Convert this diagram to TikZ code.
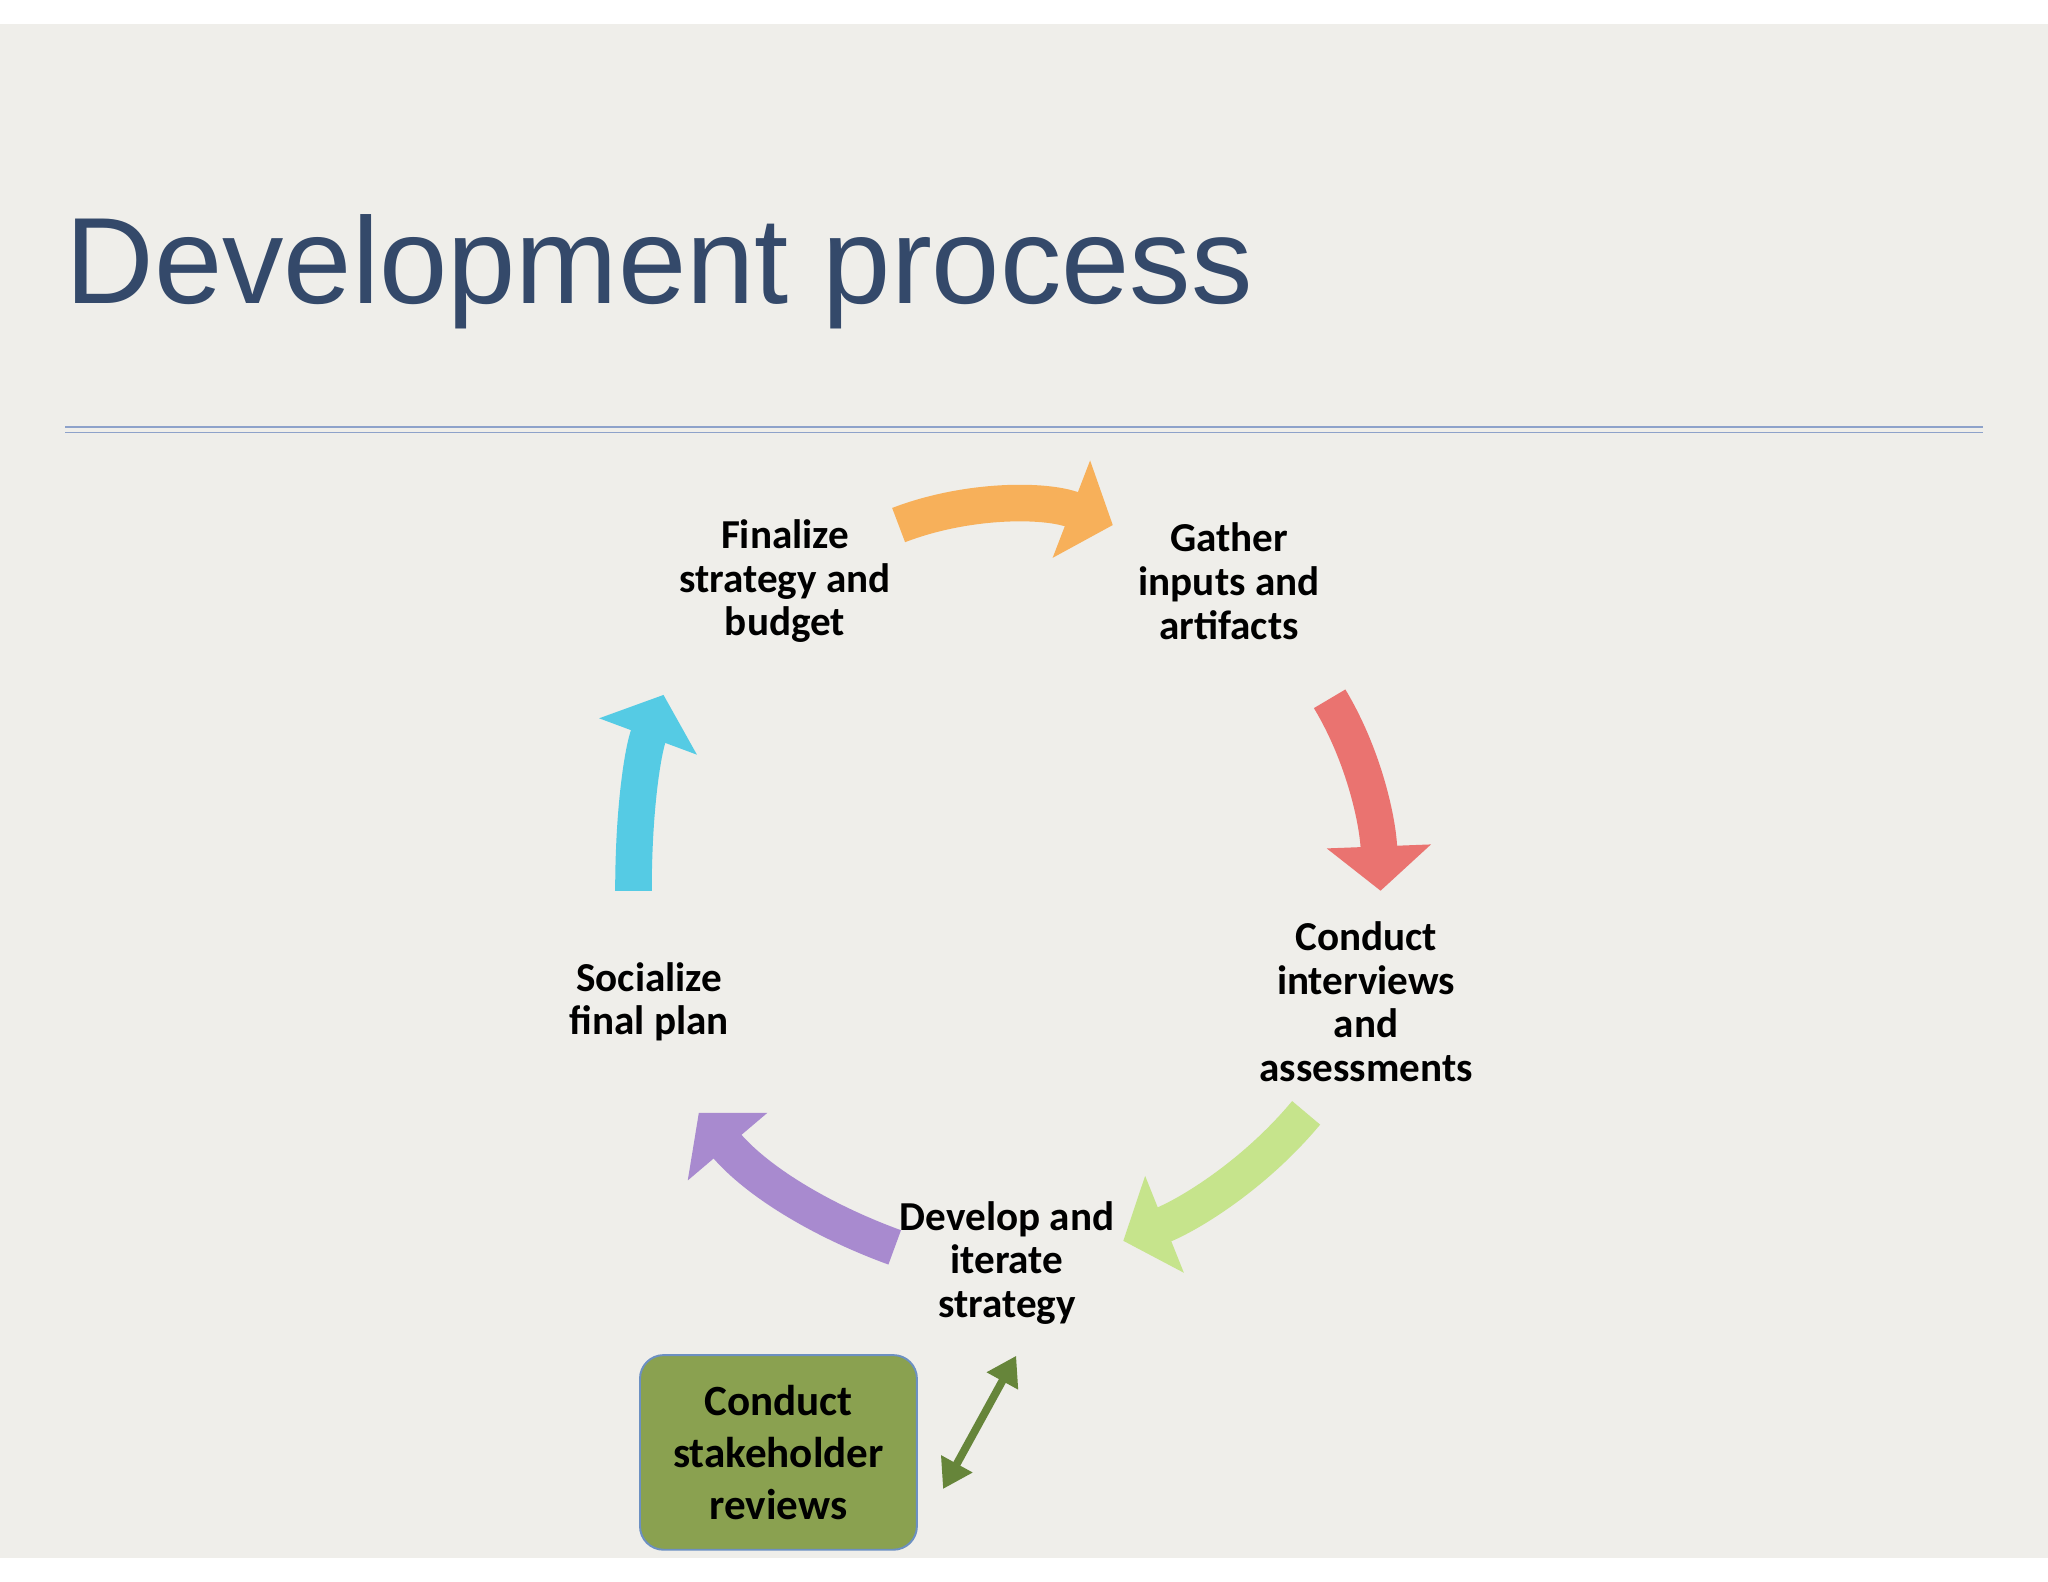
\documentclass[tikz,border=0pt]{standalone}
\usepackage{fontspec}
\setmainfont{Carlito}
\newfontfamily\titlefont{Liberation Sans}
\usetikzlibrary{arrows.meta}
\definecolor{paper}{HTML}{EFEEEA}
\definecolor{titleblue}{HTML}{34496A}
\definecolor{rule}{HTML}{8EA2CA}
\definecolor{corange}{HTML}{F7B05A}
\definecolor{cred}{HTML}{EA7370}
\definecolor{cgreen}{HTML}{C6E48C}
\definecolor{cpurple}{HTML}{A88ACF}
\definecolor{cblue}{HTML}{55CBE4}
\definecolor{olive}{HTML}{8AA150}
\definecolor{darkolive}{HTML}{66853A}
\definecolor{boxedge}{HTML}{6C90C2}
\begin{document}
\begin{tikzpicture}[x=1pt,y=-1pt,
  lab/.style={font=\bfseries\fontsize{31.5}{33.5}\selectfont,align=center,text=black},
  cyc/.style={line width=28pt,-{Triangle[width=78pt,length=34pt]}}]
\useasboundingbox (0,0) rectangle (1568,1211);
\fill[white] (0,0) rectangle (1568,1211);
\fill[paper] (0,18) rectangle (1568,1193);
\node[anchor=base west,inner sep=0,text=titleblue,font=\titlefont\fontsize{94}{100}\selectfont] (title) at (50,232) {Development process};
\draw[rule,line width=1.2pt] (50,327) -- (1518,327) (50,331) -- (1518,331);
\node[lab] (fin) at (601,445) {Finalize\\strategy and\\budget};
\node[lab] (gat) at (941,445) {Gather\\inputs and\\artifacts};
\node[lab] (con) at (1046,767) {Conduct\\interviews\\and\\assessments};
\node[lab] (dev) at (771,967) {Develop and\\iterate\\strategy};
\node[lab] (soc) at (497,767) {Socialize\\final plan};
\coordinate (o1) at (688,402); \coordinate (o2) at (852,402);
\coordinate (r1) at (1018,535); \coordinate (r2) at (1057,682);
\coordinate (g1) at (1000,852); \coordinate (g2) at (860,950);
\coordinate (p1) at (685,955); \coordinate (p2) at (535,852);
\coordinate (b1) at (485,682); \coordinate (b2) at (508,532);
\draw[cyc,corange] (o1) .. controls (740,382) and (800,382) .. (o2);
\draw[cyc,cred] (r1) .. controls (1045,580) and (1055,630) .. (r2);
\draw[cyc,cgreen] (g1) .. controls (960,900) and (910,930) .. (g2);
\draw[cyc,cpurple] (p1) .. controls (630,935) and (580,905) .. (p2);
\draw[cyc,cblue] (b1) .. controls (485,620) and (492,575) .. (b2);
\node[draw=boxedge,line width=1.5pt,fill=olive,rounded corners=18pt,minimum width=212pt,minimum height=149pt,lab,font=\bfseries\fontsize{33}{40}\selectfont] (rev) at (596,1112) {Conduct\\stakeholder\\reviews};
\coordinate (d1) at (722,1140); \coordinate (d2) at (778,1038);
\draw[darkolive,line width=6pt,{Triangle[width=26pt,length=22pt]}-{Triangle[width=26pt,length=22pt]}] (d1) -- (d2);
\end{tikzpicture}
\end{document}
